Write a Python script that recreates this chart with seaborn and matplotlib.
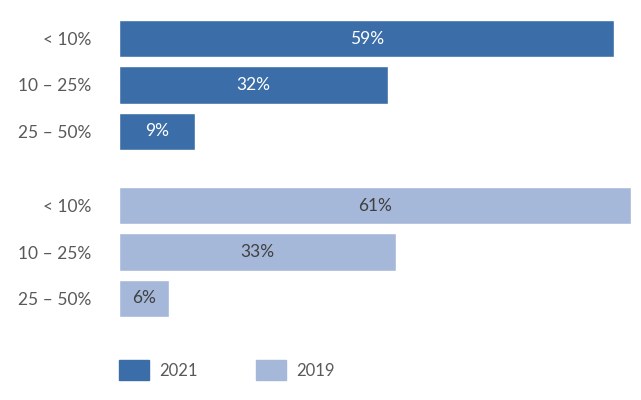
import matplotlib
matplotlib.use('Agg')
import matplotlib.pyplot as plt
import seaborn as sns
import pandas as pd
from matplotlib.patches import Patch

# Data
categories = ['< 10%', '10 – 25%', '25 – 50%']
years = ['2021', '2019']
share_2021 = [59, 32, 9]
share_2019 = [61, 33, 6]
colors = {'2021': '#3b6ea8', '2019': '#a6b8d9'}

sns.set_theme(style='white')
plt.rcParams['font.family'] = ['Lato', 'DejaVu Sans']

# build long table, second group shifted down with a gap
group_gap = 3.6
rows = []
for g, (year, vals) in enumerate(zip(years, [share_2021, share_2019])):
    for i, (cat, v) in enumerate(zip(categories, vals)):
        rows.append({'pos': i + g * group_gap, 'label': cat, 'year': year, 'share': v})
df = pd.DataFrame(rows)

fig = plt.figure(figsize=(6.41, 4.0), dpi=100)
ax = fig.add_axes([119 / 641, 1 - 317 / 400, (631 - 119) / 641, (317 - 20) / 400])

sns.barplot(data=df, x='share', y='pos', hue='year', hue_order=years, orient='h',
            native_scale=True, dodge=False, palette=colors, width=0.8, ax=ax,
            saturation=1, legend=False)

# labels inside the bars
for cont, year in zip(ax.containers, years):
    ax.bar_label(cont, labels=[f'{int(v)}%' for v in cont.datavalues], label_type='center',
                 fontsize=12.5, color='white' if year == '2021' else '#404040')

ax.set_xlim(0, 61)
ax.set_ylim(6.0, -0.4)
ax.set_yticks(df['pos'])
ax.set_yticklabels(df['label'])
ax.set_xticks([])
ax.set_xlabel('')
ax.set_ylabel('')
ax.tick_params(axis='y', length=0, pad=20, labelsize=12.5, labelcolor='#595959')
sns.despine(ax=ax, left=True, bottom=True)

# legend at the bottom
handles = [Patch(facecolor=colors[y], edgecolor=colors[y]) for y in years]
fig.legend(handles, years, loc='center left', bbox_to_anchor=(104 / 641, 1 - 370 / 400),
           ncol=2, frameon=False, fontsize=12, labelcolor='#595959',
           handlelength=1.8, handleheight=1.5, handletextpad=0.6, columnspacing=3.5)

fig.savefig('out.png', dpi=100)
